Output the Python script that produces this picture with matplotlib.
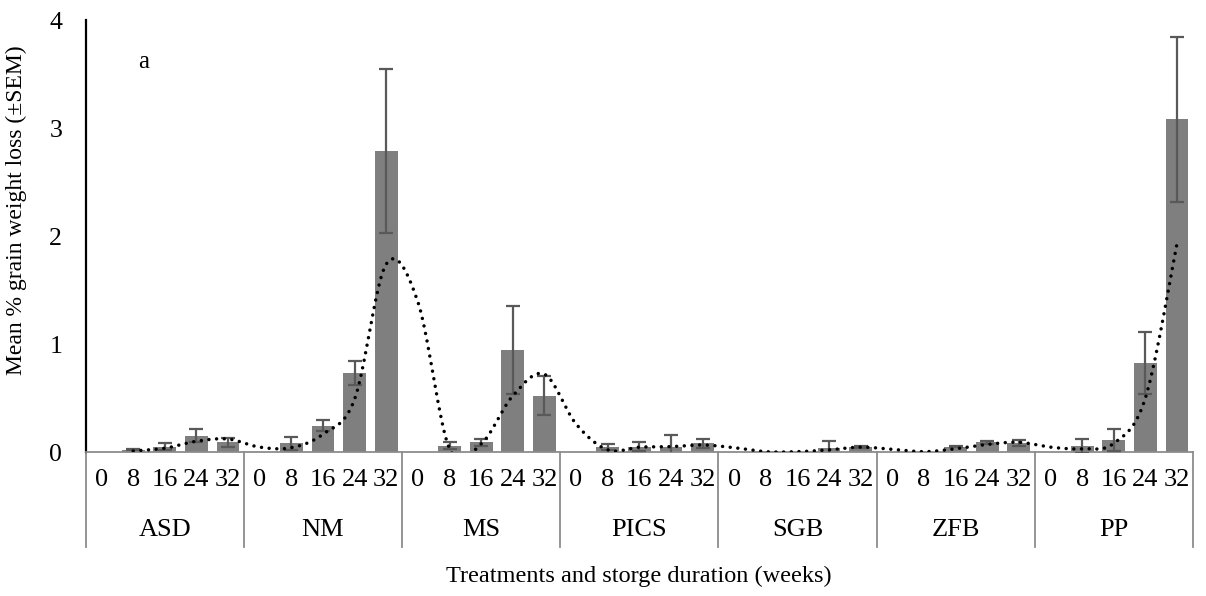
import numpy as np
import matplotlib
matplotlib.use('Agg')
import matplotlib.pyplot as plt

plt.rcParams['font.family'] = 'Liberation Serif'

# treatments and weeks
groups = ['ASD', 'NM', 'MS', 'PICS', 'SGB', 'ZFB', 'PP']
weeks = ['0', '8', '16', '24', '32']

# mean % grain weight loss (5 values per treatment)
asd = [0.0, 0.02, 0.05, 0.15, 0.09]
nm = [0.0, 0.08, 0.245, 0.73, 2.79]
ms = [0.0, 0.06, 0.09, 0.945, 0.52]
pics = [0.0, 0.045, 0.05, 0.05, 0.08]
sgb = [0.0, 0.005, 0.0, 0.04, 0.05]
zfb = [0.0, 0.0, 0.05, 0.09, 0.085]
pp = [0.0, 0.055, 0.11, 0.825, 3.08]

# SEM
asd_err = [0.0, 0.005, 0.035, 0.06, 0.04]
nm_err = [0.0, 0.06, 0.05, 0.11, 0.76]
ms_err = [0.0, 0.03, 0.035, 0.41, 0.18]
pics_err = [0.0, 0.03, 0.04, 0.105, 0.04]
sgb_err = [0.0, 0.0, 0.0, 0.065, 0.01]
zfb_err = [0.0, 0.0, 0.005, 0.015, 0.025]
pp_err = [0.0, 0.065, 0.10, 0.29, 0.765]

# dotted trend line (starts at ASD 8)
trend = [0.01, 0.035, 0.10, 0.12,
         0.045, 0.04, 0.165, 0.49, 1.74,
         1.39, 0.03, 0.075, 0.52, 0.72,
         0.26, 0.02, 0.045, 0.05, 0.065,
         0.04, 0.003, 0.003, 0.02, 0.045,
         0.025, 0.003, 0.03, 0.07, 0.09,
         0.045, 0.03, 0.08, 0.50, 1.93]

vals = np.array(asd + nm + ms + pics + sgb + zfb + pp)
errs = np.array(asd_err + nm_err + ms_err + pics_err + sgb_err + zfb_err + pp_err)
x = np.arange(len(vals))


def smooth(xs, ys, n=25):
    # bezier smoothing through the points, like the spreadsheet's smoothed line
    pts = np.column_stack([xs, ys])
    out = []
    for k in range(len(pts) - 1):
        p0 = pts[k - 1] if k > 0 else pts[k]
        p1 = pts[k]
        p2 = pts[k + 1]
        p3 = pts[k + 2] if k + 2 < len(pts) else pts[k + 1]
        c1 = p1 + (p2 - p0) / 6
        c2 = p2 - (p3 - p1) / 6
        t = np.linspace(0, 1, n)[:, None]
        seg = (1 - t)**3 * p1 + 3 * (1 - t)**2 * t * c1 + 3 * (1 - t) * t**2 * c2 + t**3 * p2
        out.append(seg if k == 0 else seg[1:])
    return np.vstack(out)


fig = plt.figure(figsize=(12.06, 5.96), dpi=100)
ax = fig.add_axes([0.0711, 0.2416, 0.918, 0.7248])

ax.bar(x, vals, width=0.72, color='#7f7f7f', zorder=2)
m = errs > 0
ax.errorbar(x[m], vals[m], yerr=errs[m], fmt='none', ecolor='#595959',
            elinewidth=1.6, capsize=5, capthick=1.6, zorder=3)

curve = smooth(x[1:], trend)
ax.plot(curve[:, 0], curve[:, 1], color='black', lw=2.5,
        linestyle=(0, (0.01, 2.2)), dash_capstyle='round', zorder=4)

ax.set_xlim(-0.5, len(vals) - 0.5)
ax.set_ylim(0, 4)
ax.set_yticks([0, 1, 2, 3, 4])
ax.tick_params(axis='y', length=0, pad=17, labelsize=18.5)
ax.set_xticks(x)
ax.set_xticklabels(weeks * len(groups))
ax.tick_params(axis='x', length=0, pad=12, labelsize=19)

for s in ['top', 'right']:
    ax.spines[s].set_visible(False)
ax.spines['left'].set_color('black')
ax.spines['left'].set_linewidth(1.6)
ax.spines['bottom'].set_color('#8c8c8c')
ax.spines['bottom'].set_linewidth(1.3)

# group separators and labels below the axis
tr = ax.get_xaxis_transform()
for b in np.arange(-0.5, len(vals), 5):
    ax.plot([b, b], [0, -0.22], color='#8c8c8c', lw=1.3, transform=tr, clip_on=False)
for i, g in enumerate(groups):
    ax.text(i * 5 + 2, -0.181, g, transform=tr, ha='center', va='center', fontsize=19)

ax.text(0.5, -0.289, 'Treatments and storge duration (weeks)', transform=ax.transAxes,
        ha='center', va='center', fontsize=17.5)
ax.set_ylabel('Mean % grain weight loss (±SEM)', fontsize=17)
ax.yaxis.set_label_coords(-0.053, 0.56)

ax.text(0.052, 0.903, 'a', transform=ax.transAxes, ha='center', va='center', fontsize=18)

fig.savefig('out.png', dpi=100)
